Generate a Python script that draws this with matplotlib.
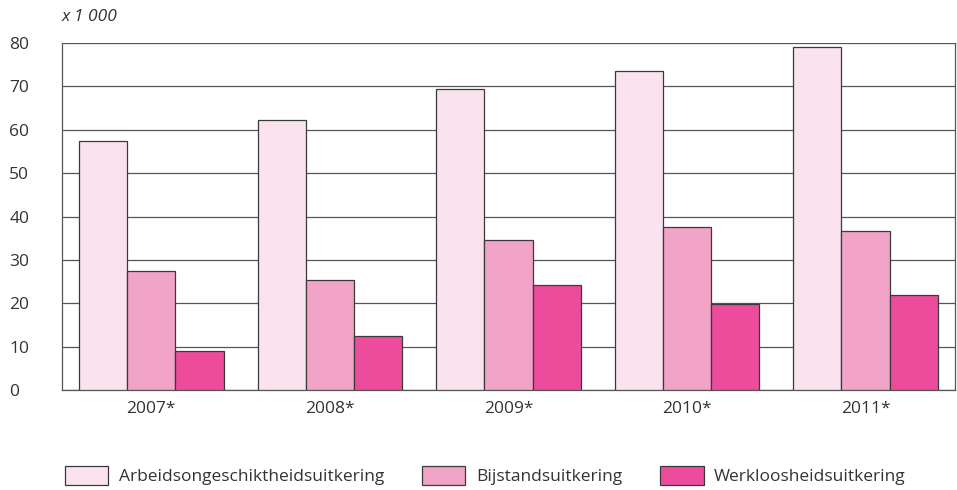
import matplotlib.pyplot as plt
import numpy as np

plt.rcParams['font.family'] = ['Open Sans', 'DejaVu Sans']

years = ['2007*', '2008*', '2009*', '2010*', '2011*']
series_names = ['Arbeidsongeschiktheidsuitkering', 'Bijstandsuitkering', 'Werkloosheidsuitkering']
arbeidsongeschikt = [57.4, 62.2, 69.4, 73.5, 79.0]
bijstand = [27.4, 25.3, 34.6, 37.6, 36.6]
werkloosheid = [9.0, 12.4, 24.2, 19.8, 21.9]
colors = ['#fae3ee', '#f2a3c8', '#ec4c9b']

fig = plt.figure(figsize=(9.57, 4.9), dpi=100)
ax = fig.add_axes([0.0648, 0.204, 0.933, 0.708])

x = np.arange(len(years))
width = 0.27
for i, (vals, name) in enumerate(zip([arbeidsongeschikt, bijstand, werkloosheid], series_names)):
    ax.bar(x + (i - 1) * width, vals, width, color=colors[i], edgecolor='#3a3a3a',
           linewidth=0.9, label=name, zorder=3)

ax.set_xlim(-0.5, len(years) - 0.5)
ax.set_ylim(0, 80)
ax.set_yticks(range(0, 81, 10))
ax.set_xticks(x)
ax.set_xticklabels(years)
ax.tick_params(axis='both', length=0, labelsize=12.5, colors='#333333')
ax.tick_params(axis='x', pad=8)
ax.tick_params(axis='y', pad=38)
for lbl in ax.get_yticklabels():
    lbl.set_horizontalalignment('left')
ax.grid(axis='y', color='#555555', linewidth=0.9, zorder=0)
for s in ax.spines.values():
    s.set_color('#555555')
    s.set_linewidth(0.9)
ax.spines['top'].set_visible(False)

fig.text(0.0648, 0.965, 'x 1 000', fontsize=12.5, style='italic', color='#333333',
         ha='left', va='center')

fig.legend(loc='center', bbox_to_anchor=(0.507, 0.03), ncol=3, frameon=False,
           fontsize=12.5, handlelength=2.5, handleheight=1.3, columnspacing=2.2,
           handletextpad=0.6, labelcolor='#333333')

fig.savefig('out.png', dpi=100)
